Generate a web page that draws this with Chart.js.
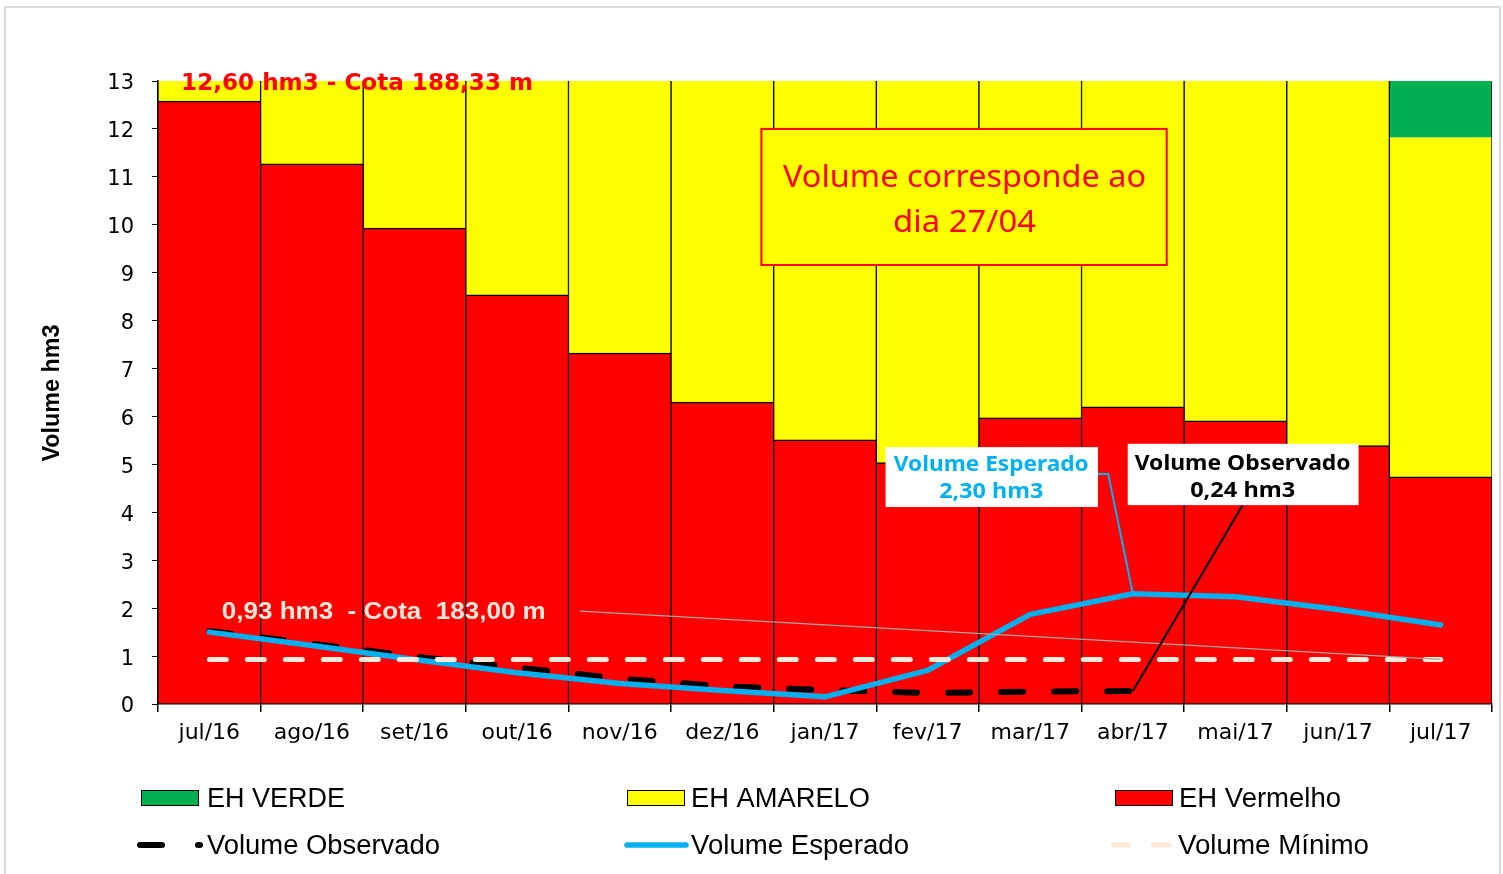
<!DOCTYPE html>
<html>
<head>
<meta charset="utf-8">
<script src="https://cdn.jsdelivr.net/npm/chart.js@4.4.0/dist/chart.umd.min.js"></script>
<style>
  html, body { margin: 0; padding: 0; background: #fff; }
  #wrap { position: relative; width: 1503px; height: 874px; }
</style>
</head>
<body>
<div id="wrap"><canvas id="volChart"></canvas></div>
<script>
// months on the x axis
const months = ["jul/16","ago/16","set/16","out/16","nov/16","dez/16","jan/17","fev/17","mar/17","abr/17","mai/17","jun/17","jul/17"];

// stacked bands (hm3)
const redVals    = [12.58, 11.27, 9.93, 8.54, 7.32, 6.30, 5.51, 5.04, 5.97, 6.20, 5.91, 5.39, 4.74];
const yellowVals = [0.42, 1.73, 3.07, 4.46, 5.68, 6.70, 7.49, 7.96, 7.03, 6.80, 7.09, 7.61, 7.08];
const greenVals  = [0, 0, 0, 0, 0, 0, 0, 0, 0, 0, 0, 0, 1.18];

// lines (hm3)
const observedVals = [1.52, 1.26, 0.99, 0.76, 0.53, 0.37, 0.29, 0.23, 0.26, 0.27, null, null, null];
const expectedVals = [1.50, 1.22, 0.93, 0.65, 0.43, 0.28, 0.15, 0.70, 1.87, 2.30, 2.24, 1.97, 1.65];
const minimumVals  = [0.93, 0.93, 0.93, 0.93, 0.93, 0.93, 0.93, 0.93, 0.93, 0.93, 0.93, 0.93, 0.93];

const yTicks = { min: 0, max: 13, step: 1 };

const RED = "#ff0000", YELLOW = "#ffff00", GREEN = "#00b050";
const CYAN = "#00b0f0", PEACH = "#fde9d9";

// draw text squeezed/stretched to a given width
function fitText(ctx, text, x, y, font, width, color, align) {
  ctx.save();
  ctx.font = font;
  const w = ctx.measureText(text).width;
  ctx.translate(x, y + 2);
  ctx.scale(width / w, 1);
  ctx.fillStyle = color;
  ctx.textAlign = align || "center";
  ctx.textBaseline = "middle";
  ctx.fillText(text, 0, 0);
  ctx.restore();
}

function line(ctx, pts, color, width) {
  ctx.save();
  ctx.strokeStyle = color;
  ctx.lineWidth = width;
  ctx.beginPath();
  pts.forEach((p, i) => i ? ctx.lineTo(p[0], p[1]) : ctx.moveTo(p[0], p[1]));
  ctx.stroke();
  ctx.restore();
}

const notesPlugin = {
  id: "notes",
  beforeDraw(chart) {
    const ctx = chart.ctx;
    ctx.save();
    ctx.strokeStyle = "#d9d9d9";
    ctx.lineWidth = 2;
    ctx.strokeRect(5, 7, 1495, 880);
    ctx.restore();
  },
  afterDatasetsDraw(chart) {
    const ctx = chart.ctx;
    const xs = chart.scales.x, ys = chart.scales.y;
    const P = (i, v) => [xs.getPixelForValue(i), ys.getPixelForValue(v)];

    // leader lines
    line(ctx, [P(3.61, 1.94), P(12, minimumVals[12])], "#a6a6a6", 1.2);
    line(ctx, [P(8.66, 4.80), P(8.76, 4.80), P(9, expectedVals[9])], CYAN, 2);
    line(ctx, [P(10.07, 4.15), P(9, observedVals[9])], "#000", 2);

    // boxes
    const box = (i0, v0, i1, v1, fill, stroke) => {
      const a = P(i0, v0), b = P(i1, v1);
      ctx.save();
      ctx.fillStyle = fill;
      ctx.fillRect(a[0], a[1], b[0] - a[0], b[1] - a[1]);
      if (stroke) {
        ctx.strokeStyle = stroke;
        ctx.lineWidth = 2;
        ctx.strokeRect(a[0], a[1], b[0] - a[0], b[1] - a[1]);
      }
      ctx.restore();
    };
    box(5.38, 12.0, 9.33, 9.16, YELLOW, RED);
    box(6.59, 5.36, 8.66, 4.11, "#fff");
    box(8.95, 5.43, 11.20, 4.15, "#fff");

    let p;
    p = P(7.36, 11.02);
    fitText(ctx, "Volume corresponde ao", p[0], p[1], "31px 'Noto Sans'", 363, RED);
    p = P(7.36, 10.08);
    fitText(ctx, "dia 27/04", p[0], p[1], "31px 'Noto Sans'", 143, RED);

    p = P(7.62, 5.03);
    fitText(ctx, "Volume Esperado", p[0], p[1], "bold 22px 'Noto Sans'", 195, CYAN);
    p = P(7.62, 4.47);
    fitText(ctx, "2,30 hm3", p[0], p[1], "bold 22px 'Noto Sans'", 104, CYAN);

    p = P(10.07, 5.05);
    fitText(ctx, "Volume Observado", p[0], p[1], "bold 22px 'Noto Sans'", 216, "#000");
    p = P(10.07, 4.49);
    fitText(ctx, "0,24 hm3", p[0], p[1], "bold 22px 'Noto Sans'", 105, "#000");

    p = P(1.44, 12.98);
    fitText(ctx, "12,60 hm3 - Cota 188,33 m", p[0], p[1], "bold 23px 'DejaVu Sans'", 352, RED);
    p = P(1.70, 1.94);
    fitText(ctx, "0,93 hm3  - Cota  183,00 m", p[0], p[1], "bold 23px 'Liberation Sans'", 324, PEACH);
  },
  afterDraw(chart) {
    const ctx = chart.ctx;
    // y axis title
    ctx.save();
    ctx.translate(53, 393);
    ctx.rotate(-Math.PI / 2);
    fitText(ctx, "Volume hm3", 0, -2, "bold 23px 'Liberation Sans'", 137, "#000");
    ctx.restore();

    // legend (3 columns x 2 rows)
    const font = "27px 'Liberation Sans'";
    const r1 = 798, r2 = 845;
    const boxes = [[141, GREEN, "EH VERDE", 207, 138], [627, YELLOW, "EH AMARELO", 691, 179], [1115, RED, "EH Vermelho", 1179, 162]];
    boxes.forEach(b => {
      ctx.save();
      ctx.fillStyle = b[1];
      ctx.fillRect(b[0], r1 - 8, 58, 16);
      ctx.strokeStyle = "#000";
      ctx.lineWidth = 1;
      ctx.strokeRect(b[0] + 0.5, r1 - 7.5, 57, 15);
      ctx.restore();
      fitText(ctx, b[2], b[3], r1, font, b[4], "#000", "left");
    });

    ctx.save();
    ctx.lineCap = "round";
    ctx.strokeStyle = "#000";
    ctx.lineWidth = 6;
    ctx.beginPath(); ctx.moveTo(140, r2); ctx.lineTo(162, r2); ctx.stroke();
    ctx.beginPath(); ctx.moveTo(198, r2); ctx.lineTo(200, r2); ctx.stroke();
    ctx.strokeStyle = CYAN;
    ctx.lineWidth = 5.5;
    ctx.beginPath(); ctx.moveTo(627, r2); ctx.lineTo(686, r2); ctx.stroke();
    ctx.strokeStyle = PEACH;
    ctx.lineWidth = 5;
    ctx.beginPath(); ctx.moveTo(1113, r2); ctx.lineTo(1128, r2); ctx.stroke();
    ctx.beginPath(); ctx.moveTo(1153, r2); ctx.lineTo(1169, r2); ctx.stroke();
    ctx.restore();
    fitText(ctx, "Volume Observado", 207, r2, font, 233, "#000", "left");
    fitText(ctx, "Volume Esperado", 691, r2, font, 218, "#000", "left");
    fitText(ctx, "Volume Mínimo", 1178, r2, font, 191, "#000", "left");
  }
};

const barBase = { type: "bar", stack: "eh", order: 3, borderColor: "#000", borderSkipped: false, barPercentage: 1, categoryPercentage: 1 };
const lineBase = { type: "line", pointRadius: 0, tension: 0, fill: false, borderCapStyle: "round", borderJoinStyle: "round" };

new Chart(document.getElementById("volChart"), {
  data: {
    labels: months,
    datasets: [
      { ...barBase, label: "EH Vermelho", data: redVals, backgroundColor: RED, borderWidth: { top: 1.5, left: 1, right: 1, bottom: 0 } },
      { ...barBase, label: "EH AMARELO", data: yellowVals, backgroundColor: YELLOW, borderWidth: { top: 0, left: 1, right: 1, bottom: 0 } },
      { ...barBase, label: "EH VERDE", data: greenVals, backgroundColor: GREEN, borderWidth: { top: 0, left: 1, right: 1, bottom: 0 } },
      { ...lineBase, label: "Volume Observado", data: observedVals, stack: "obs", order: 2, borderColor: "#000", borderWidth: 6, borderDash: [22, 31] },
      { ...lineBase, label: "Volume Esperado", data: expectedVals, stack: "exp", order: 1, borderColor: CYAN, borderWidth: 5.5 },
      { ...lineBase, label: "Volume Mínimo", data: minimumVals, stack: "min", order: 0, borderColor: PEACH, borderWidth: 5, borderDash: [17, 21] }
    ]
  },
  options: {
    responsive: true,
    maintainAspectRatio: false,
    animation: false,
    events: [],
    layout: { padding: { left: 0, top: 81, right: 11, bottom: 120 } },
    plugins: { legend: { display: false }, tooltip: { enabled: false } },
    scales: {
      x: {
        stacked: true,
        afterFit: (s) => { s.height = 50; },
        grid: { offset: true, drawOnChartArea: false, tickLength: 8, color: "#000", lineWidth: 1.5 },
        border: { color: "#000", width: 1.5 },
        ticks: { color: "#000", font: { family: "DejaVu Sans", size: 22 }, padding: 8, maxRotation: 0, autoSkip: false }
      },
      y: {
        stacked: true,
        min: yTicks.min,
        max: yTicks.max,
        afterFit: (s) => { s.width = 158; },
        grid: { drawOnChartArea: false, tickLength: 6, color: "#000", lineWidth: 1 },
        border: { color: "#000", width: 1.5 },
        ticks: { stepSize: yTicks.step, color: "#000", font: { family: "DejaVu Sans", size: 21 }, padding: 18, labelOffset: 3 }
      }
    }
  },
  plugins: [notesPlugin]
});
</script>
</body>
</html>
